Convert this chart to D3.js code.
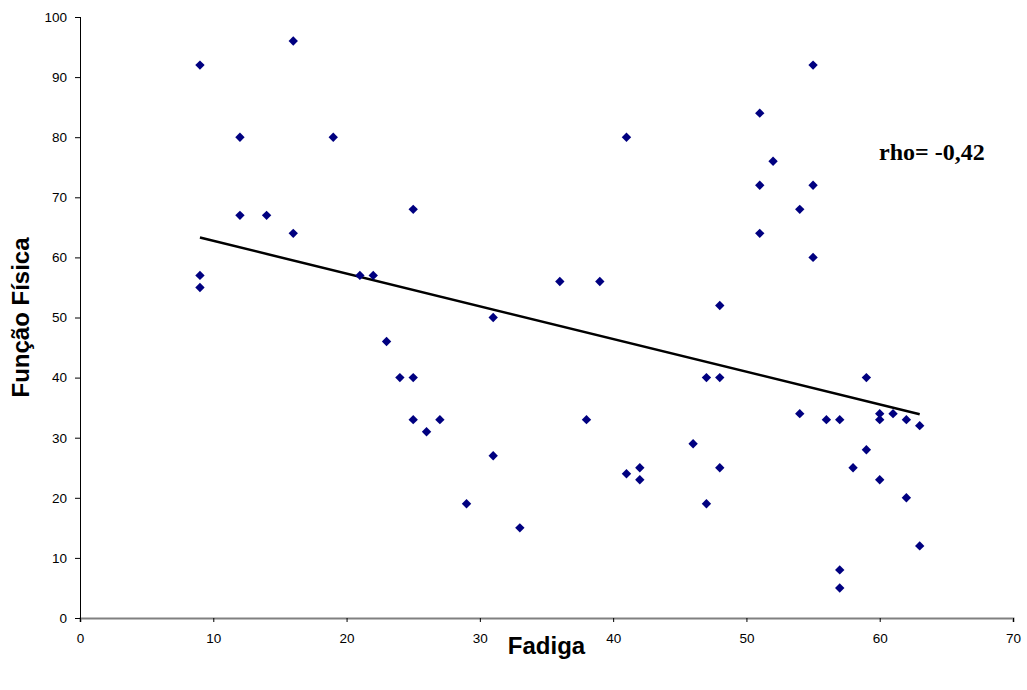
<!DOCTYPE html>
<html>
<head>
<meta charset="utf-8">
<script src="https://cdn.jsdelivr.net/npm/d3@7"></script>
<style>
  body { margin: 0; background: #fff; }
  svg { display: block; font-family: "Liberation Sans", Arial, sans-serif; }
</style>
</head>
<body>
<div id="chart"></div>
<script>
// Fadiga (x) vs Função Física (y)
const fadiga = [9, 9, 9, 12, 12, 14, 16, 16, 19, 21, 22, 23, 24, 25, 25, 25, 26, 27, 29, 31, 31, 33,
    36, 38, 39, 41, 41, 42, 42, 46, 47, 47, 48, 48, 48, 51, 51, 51, 52, 54, 54, 55, 55, 55,
    56, 57, 57, 57, 58, 59, 59, 60, 60, 60, 61, 62, 62, 63, 63];
const funcaoFisica = [92, 57, 55, 80, 67, 67, 96, 64, 80, 57, 57, 46, 40, 68, 40, 33, 31, 33, 19, 50, 27, 15,
    56, 33, 56, 80, 24, 25, 23, 29, 40, 19, 52, 40, 25, 84, 72, 64, 76, 68, 34, 92, 72, 60,
    33, 33, 8, 5, 25, 40, 28, 34, 33, 23, 34, 33, 20, 32, 12];

// trend line end points
const trendX = [9, 63];
const trendY = [63.3, 33.9];

const xTicks = [0, 10, 20, 30, 40, 50, 60, 70];
const yTicks = [0, 10, 20, 30, 40, 50, 60, 70, 80, 90, 100];

const rhoLabel = "rho= -0,42";

const width = 1027, height = 690;
const margin = { top: 17, right: 14, bottom: 72, left: 80 };

const svg = d3.select("#chart").append("svg")
    .attr("width", width)
    .attr("height", height);

const x = d3.scaleLinear().domain([0, 70]).range([margin.left, width - margin.right]);
const y = d3.scaleLinear().domain([0, 100]).range([height - margin.bottom, margin.top]);

// x axis
const xAxis = svg.append("g")
    .attr("transform", `translate(0, ${y(0)})`)
    .call(d3.axisBottom(x).tickValues(xTicks).tickSize(4).tickPadding(11).tickFormat(d3.format("d")));
xAxis.select(".domain").attr("stroke", "#808080").attr("stroke-width", 2);
xAxis.selectAll(".tick line").attr("stroke", "#000");
xAxis.selectAll("text").style("font-size", "13.5px").attr("fill", "#000");

// y axis
const yAxis = svg.append("g")
    .attr("transform", `translate(${x(0)}, 0)`)
    .call(d3.axisLeft(y).tickValues(yTicks).tickSize(5).tickPadding(8).tickFormat(d3.format("d")));
yAxis.select(".domain").attr("stroke", "#000").attr("d", `M0.5,${y(100)}V${y(0)}`);
yAxis.selectAll("text").style("font-size", "13.5px").attr("fill", "#000");

// trend line
const lineGen = d3.line()
    .x(d => x(d[0]))
    .y(d => y(d[1]));

svg.append("path")
    .datum(trendX.map((v, i) => [v, trendY[i]]))
    .attr("d", lineGen)
    .attr("fill", "none")
    .attr("stroke", "#000")
    .attr("stroke-width", 2.5);

// points: square diamonds (square turned 45 degrees)
const pts = fadiga.map((v, i) => ({ x: v, y: funcaoFisica[i] }));
svg.append("g").selectAll("path")
    .data(pts)
    .join("path")
    .attr("transform", d => `translate(${x(d.x)}, ${y(d.y)}) rotate(45)`)
    .attr("d", d3.symbol().type(d3.symbolSquare).size(44))
    .attr("fill", "#000080");

// axis titles
svg.append("text")
    .attr("x", (x(0) + x(70)) / 2)
    .attr("y", 654)
    .attr("text-anchor", "middle")
    .style("font-size", "24px")
    .style("font-weight", "bold")
    .text("Fadiga");

svg.append("text")
    .attr("transform", `translate(29, ${(y(0) + y(100)) / 2}) rotate(-90)`)
    .attr("text-anchor", "middle")
    .style("font-size", "24px")
    .style("font-weight", "bold")
    .text("Função Física");

// rho annotation
svg.append("text")
    .attr("x", 879)
    .attr("y", 160)
    .style("font-family", "'Liberation Serif', 'Times New Roman', serif")
    .style("font-size", "24px")
    .style("font-weight", "bold")
    .text(rhoLabel);
</script>
</body>
</html>
